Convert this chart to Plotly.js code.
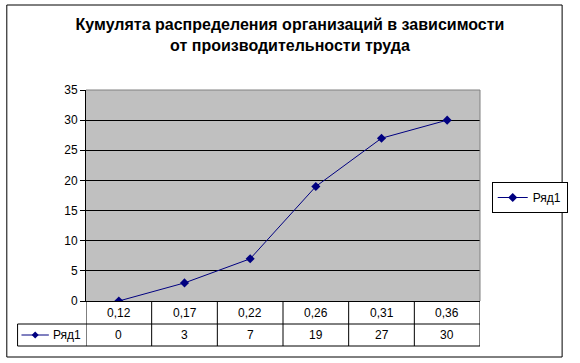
<!DOCTYPE html>
<html>
<head>
<meta charset="utf-8">
<script src="https://cdn.plot.ly/plotly-3.0.1.min.js"></script>
<style>html,body{margin:0;padding:0;background:#fff;}#chart{width:580px;height:363px;}</style>
</head>
<body>
<div id="chart"></div>
<script>
var categories = ["0,12", "0,17", "0,22", "0,26", "0,31", "0,36"];
var values = [0, 3, 7, 19, 27, 30];
var seriesName = "Ряд1";
var yTicks = [0, 5, 10, 15, 20, 25, 30, 35];

var W = 580, H = 363;
var L = 86, R = 489, T = 90, B = 301;
function px(x) { return (x - L) / (R - L); }
function py(y) { return (B - y) / (B - T); }

var font = "Liberation Sans, Arial, sans-serif";
var navy = "#000080";

var trace = {
  x: categories,
  y: values,
  type: "scatter",
  mode: "lines+markers",
  name: seriesName,
  line: { color: navy, width: 1 },
  marker: { symbol: "diamond", size: 7, color: navy }
};

var shapes = [];
var annotations = [];
var row1Bottom = py(324), row2Bottom = py(346);
var rowLeft = px(16);

// outer border
shapes.push({ type: "rect", xref: "paper", yref: "paper", x0: px(5), x1: px(573), y0: py(357), y1: py(5), line: { color: "#000", width: 1 }, layer: "below" });
// plot area border top/right (gray)
shapes.push({ type: "line", xref: "paper", yref: "paper", x0: 0, x1: 1, y0: 1, y1: 1, line: { color: "#808080", width: 1 } });
shapes.push({ type: "line", xref: "paper", yref: "paper", x0: 1, x1: 1, y0: 0, y1: 1, line: { color: "#808080", width: 1 } });

// data table vertical lines at category boundaries
for (var i = 0; i <= categories.length; i++) {
  shapes.push({ type: "line", xref: "x", yref: "paper", x0: i - 0.5, x1: i - 0.5, y0: 0, y1: row2Bottom, line: { color: "#000", width: 1 } });
}
// row 2 left cell border
shapes.push({ type: "line", xref: "paper", yref: "paper", x0: rowLeft, x1: rowLeft, y0: row1Bottom, y1: row2Bottom, line: { color: "#000", width: 1 } });
// horizontal lines
shapes.push({ type: "line", xref: "paper", yref: "paper", x0: rowLeft, x1: 1, y0: row1Bottom, y1: row1Bottom, line: { color: "#000", width: 1 } });
shapes.push({ type: "line", xref: "paper", yref: "paper", x0: rowLeft, x1: 1, y0: row2Bottom, y1: row2Bottom, line: { color: "#000", width: 1 } });

// legend key in table
var keyY = py(335);
shapes.push({ type: "line", xref: "paper", yref: "paper", x0: px(20), x1: px(48), y0: keyY, y1: keyY, line: { color: navy, width: 1 } });
shapes.push({ type: "path", xref: "paper", yref: "paper", xsizemode: "pixel", ysizemode: "pixel", xanchor: px(34), yanchor: keyY,
  path: "M-3.5,0 L0,3.5 L3.5,0 L0,-3.5 Z", fillcolor: navy, line: { color: navy, width: 0 } });
annotations.push({ xref: "paper", yref: "paper", x: px(50), y: keyY, xanchor: "left", yanchor: "middle", text: seriesName, showarrow: false, font: { family: font, size: 12, color: "#000" } });

// table texts
for (var j = 0; j < categories.length; j++) {
  annotations.push({ xref: "x", yref: "paper", x: j, y: py(312.5), xanchor: "center", yanchor: "middle", text: categories[j], showarrow: false, font: { family: font, size: 12, color: "#000" } });
  annotations.push({ xref: "x", yref: "paper", x: j, y: keyY, xanchor: "center", yanchor: "middle", text: String(values[j]), showarrow: false, font: { family: font, size: 12, color: "#000" } });
}

var layout = {
  width: W, height: H,
  margin: { l: L, r: W - R, t: T, b: H - B, pad: 0 },
  paper_bgcolor: "#fff",
  plot_bgcolor: "#C0C0C0",
  font: { family: font, size: 12, color: "#000" },
  title: {
    text: "Кумулята распределения организаций в зависимости<br>от производительности труда",
    font: { family: font, size: 16, color: "#000", weight: "bold" },
    x: 0.5, xref: "container", xanchor: "center",
    y: 1 - 30 / H, yref: "container", yanchor: "top"
  },
  xaxis: {
    type: "category",
    range: [-0.5, categories.length - 0.5],
    showticklabels: false,
    ticks: "",
    showgrid: false,
    showline: true, linecolor: "#000", linewidth: 1,
    zeroline: false, fixedrange: true
  },
  yaxis: {
    range: [0, 35],
    tickvals: yTicks,
    ticktext: yTicks.map(String),
    ticks: "outside", ticklen: 5, tickcolor: "#000", tickwidth: 1,
    showline: true, linecolor: "#000", linewidth: 1,
    showgrid: true, gridcolor: "#000", gridwidth: 1,
    zeroline: false,
    tickfont: { family: font, size: 12, color: "#000" },
    fixedrange: true
  },
  showlegend: true,
  legend: {
    x: px(501), y: py(182), xanchor: "left", yanchor: "top",
    xref: "paper", yref: "paper",
    bordercolor: "#000", borderwidth: 1, bgcolor: "#fff",
    font: { family: font, size: 12, color: "#000" },
    itemwidth: 30
  },
  shapes: shapes,
  annotations: annotations
};

Plotly.newPlot("chart", [trace], layout, { displayModeBar: false, staticPlot: true });
</script>
</body>
</html>
